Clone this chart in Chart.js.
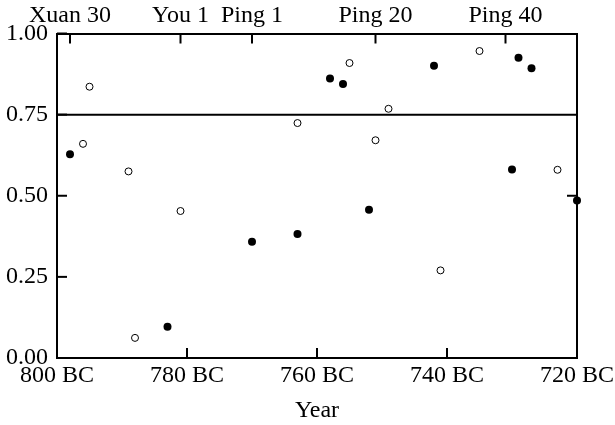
<!DOCTYPE html>
<html>
<head>
<meta charset="utf-8">
<script src="https://cdn.jsdelivr.net/npm/chart.js@4/dist/chart.umd.min.js"></script>
<style>
  body { margin: 0; background: #fff; }
  #wrap { width: 615px; height: 425px; }
</style>
</head>
<body>
<div id="wrap"><canvas id="reignChart"></canvas></div>
<script>
// Data (x = year, negative = BC)
const filledYears = [-798, -783, -770, -763, -758, -756, -752, -742, -730, -729, -727, -720];
const filledValues = [0.628, 0.096, 0.358, 0.382, 0.861, 0.844, 0.457, 0.901, 0.581, 0.925, 0.893, 0.485];
const openYears = [-796, -795, -789, -788, -781, -763, -755, -751, -749, -741, -735, -723];
const openValues = [0.660, 0.836, 0.575, 0.062, 0.453, 0.724, 0.909, 0.671, 0.768, 0.270, 0.946, 0.580];
const thresholdValue = 0.75;

// Top axis: reign years
const reignYears = [-798, -781, -770, -751, -731];
const reignLabels = ['Xuan 30', 'You 1', 'Ping 1', 'Ping 20', 'Ping 40'];

const font = { family: "'Liberation Serif', serif", size: 24 };

// inward tick marks on every axis
const innerTicks = {
    id: 'innerTicks',
    afterDraw(chart) {
        const c = chart.ctx;
        const a = chart.chartArea;
        c.save();
        c.strokeStyle = '#000';
        c.lineWidth = 2;
        Object.values(chart.scales).forEach((s) => {
            s.ticks.forEach((t) => {
                const p = s.getPixelForValue(t.value);
                c.beginPath();
                if (s.position === 'bottom') { c.moveTo(p, a.bottom); c.lineTo(p, a.bottom - 10); }
                if (s.position === 'top') { c.moveTo(p, a.top); c.lineTo(p, a.top + 10); }
                if (s.position === 'left') { c.moveTo(a.left, p); c.lineTo(a.left + 10, p); }
                if (s.position === 'right') { c.moveTo(a.right, p); c.lineTo(a.right - 10, p); }
                c.stroke();
            });
        });
        c.restore();
    }
};

const fixSize = (w, h) => (s) => {
    if (w !== null) s.width = w;
    if (h !== null) s.height = h;
    s.paddingLeft = s.paddingRight = s.paddingTop = s.paddingBottom = 0;
};

const toPts = (xs, ys) => xs.map((x, i) => ({ x: x, y: ys[i] }));

new Chart(document.getElementById('reignChart'), {
    type: 'scatter',
    data: {
        datasets: [{
            type: 'line',
            data: [{ x: -800, y: thresholdValue }, { x: -720, y: thresholdValue }],
            borderColor: '#000',
            borderWidth: 2,
            pointRadius: 0,
        }, {
            data: toPts(filledYears, filledValues),
            backgroundColor: '#000',
            borderColor: '#000',
            pointRadius: 4,
            borderWidth: 0,
            clip: false,
        }, {
            data: toPts(openYears, openValues),
            backgroundColor: '#fff',
            borderColor: '#000',
            pointRadius: 3.5,
            borderWidth: 1,
            clip: false,
        }]
    },
    options: {
        responsive: true,
        maintainAspectRatio: false,
        animation: false,
        layout: { padding: 0 },
        plugins: { legend: { display: false }, tooltip: { enabled: false } },
        scales: {
            x: {
                type: 'linear',
                position: 'bottom',
                min: -800,
                max: -720,
                afterFit: fixSize(null, 67),
                border: { color: '#000', width: 2 },
                grid: { display: false, drawTicks: false },
                ticks: {
                    stepSize: 20,
                    autoSkip: false,
                    maxRotation: 0,
                    padding: 3,
                    color: '#000',
                    font: font,
                    callback: (v) => `${-v} BC`,
                },
                title: {
                    display: true,
                    text: 'Year',
                    color: '#000',
                    font: font,
                    padding: { top: 0, bottom: 0 },
                },
            },
            x2: {
                type: 'linear',
                position: 'top',
                min: -800,
                max: -720,
                afterFit: fixSize(null, 33.5),
                afterBuildTicks: (s) => { s.ticks = reignYears.map((v) => ({ value: v })); },
                border: { color: '#000', width: 2 },
                grid: { display: false, drawTicks: false },
                ticks: {
                    autoSkip: false,
                    maxRotation: 0,
                    padding: 3,
                    color: '#000',
                    font: font,
                    callback: (v, i) => reignLabels[i],
                },
            },
            y: {
                type: 'linear',
                position: 'left',
                min: 0,
                max: 1,
                afterFit: fixSize(57, null),
                border: { color: '#000', width: 2 },
                grid: { display: false, drawTicks: false },
                ticks: {
                    stepSize: 0.25,
                    padding: 9,
                    color: '#000',
                    font: font,
                    callback: (v) => v.toFixed(2),
                },
            },
            y2: {
                type: 'linear',
                position: 'right',
                min: 0,
                max: 1,
                afterFit: fixSize(38, null),
                afterBuildTicks: (s) => { s.ticks = [{ value: 0.5 }]; },
                border: { color: '#000', width: 2 },
                grid: { display: false, drawTicks: false },
                ticks: { display: false },
            },
        },
    },
    plugins: [innerTicks],
});
</script>
</body>
</html>
